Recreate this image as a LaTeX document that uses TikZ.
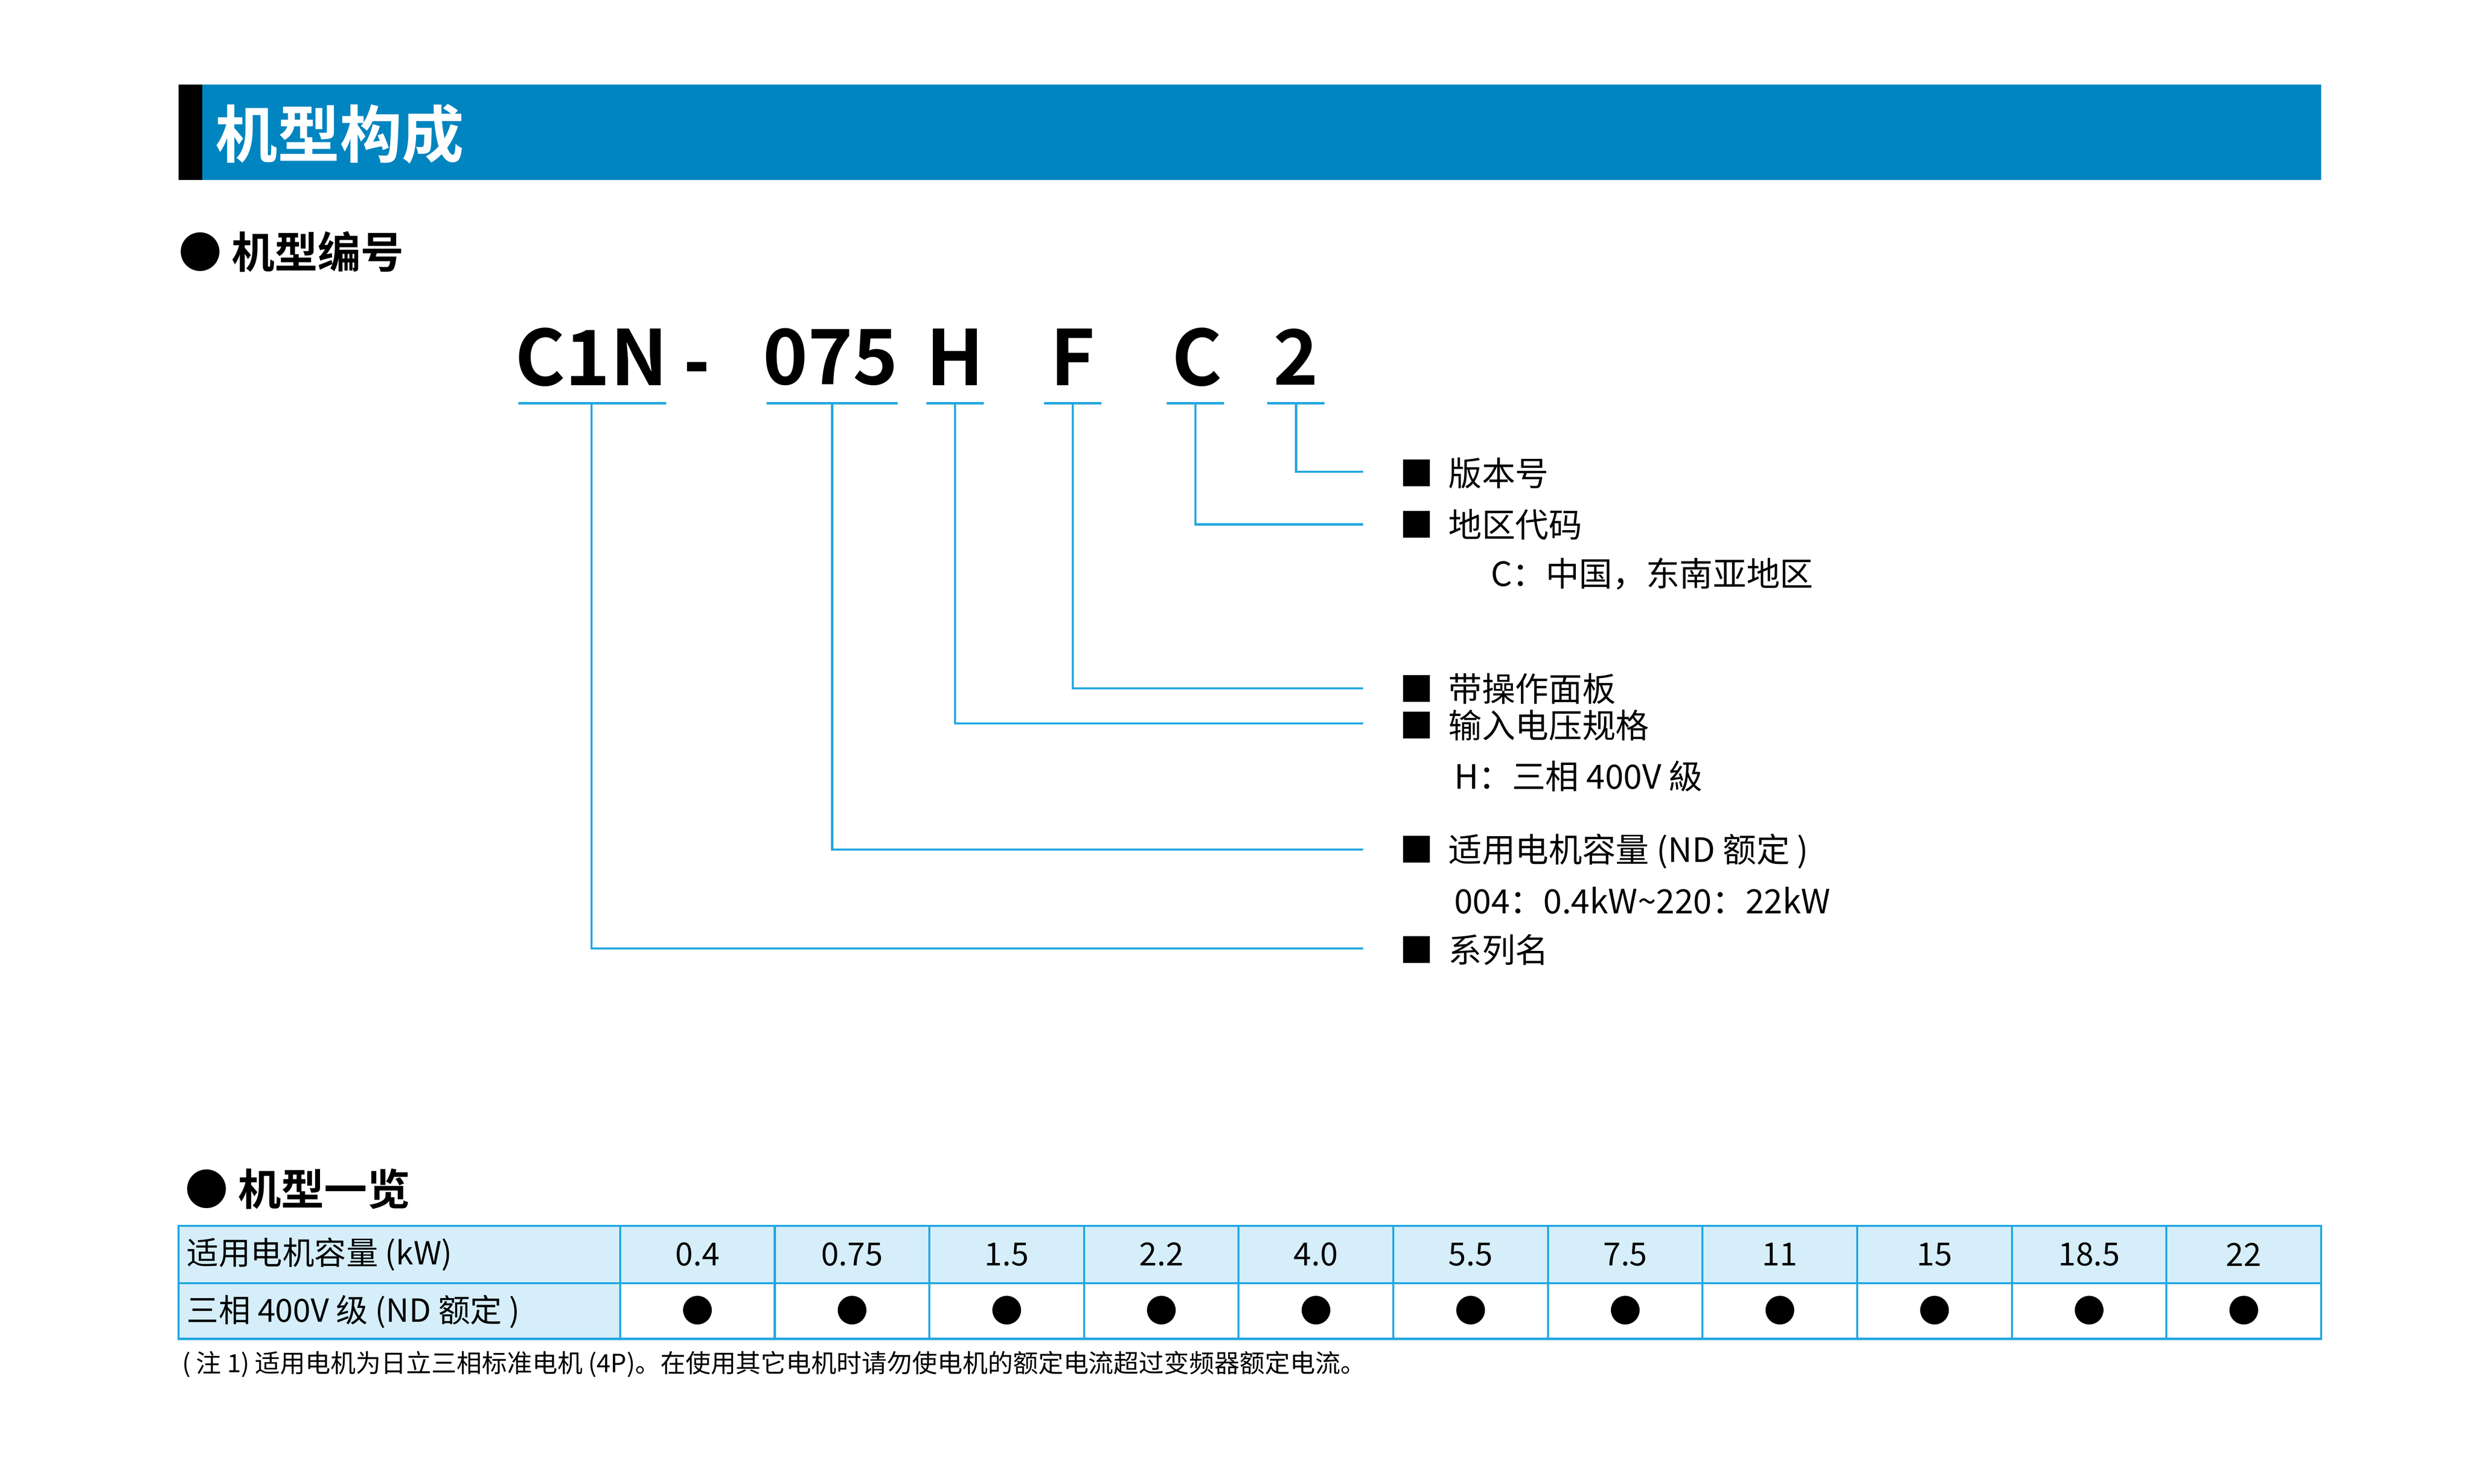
\documentclass[tikz,border=0pt]{standalone}
\usepackage{fontspec}
\setmainfont{Noto Sans CJK SC}
\newfontfamily\cjkb{Noto Sans CJK SC Bold}
\definecolor{barblue}{HTML}{0085C0}
\definecolor{lineblue}{HTML}{22A7E0}
\definecolor{cellblue}{HTML}{D5EEFA}
\begin{document}
\begin{tikzpicture}[x=1pt,y=-1pt,
  lbl/.style={anchor=west,inner sep=0pt,font=\fontsize{21}{21}\selectfont},
  code/.style={inner sep=0pt,font=\cjkb\fontsize{48}{48}\selectfont},
  lead/.style={draw=lineblue,line width=1.3pt},
  cell/.style={font=\fontsize{20}{20}\selectfont,inner sep=0pt}]
\useasboundingbox (0,0) rectangle (1551.3,931);
\fill[white] (0,0) rectangle (1551.3,931);
% header
\fill[barblue] (112,53) rectangle (1456,113);
\fill[black] (112,53) rectangle (127,113);
\node[anchor=west,inner sep=0pt,text=white,font=\cjkb\fontsize{39}{39}\selectfont] (title) at (135,84) {机型构成};
\node[anchor=west,inner sep=0pt,font=\cjkb\fontsize{27}{27}\selectfont] (s1) at (112,158) {● 机型编号};
% code letters
\node[code] (c1n) at (371,224) {C1N};
\fill (431,227) rectangle (443,233);
\node[code] (n075) at (521,224) {075};
\node[code] (h) at (599,224) {H};
\node[code] (f) at (673,224) {F};
\node[code] (c) at (751,224) {C};
\node[code] (two) at (813,224) {2};
% underlines
\foreach \a/\b in {325/418,481/563,581/617,655/691,732/768,795/831}
  \draw[lead] (\a,253) -- (\b,253);
% labels
\node[lbl] (l1) at (878,297) {■\ \ 版本号};
\node[lbl] (l2) at (878,329) {■\ \ 地区代码};
\node[lbl] (l2b) at (935,360) {C：中国，东南亚地区};
\node[lbl] (l3) at (878,432) {■\ \ 带操作面板};
\node[lbl] (l4) at (878,455) {■\ \ 输入电压规格};
\node[lbl] (l4b) at (912,487) {H：三相 400V 級};
\node[lbl] (l5) at (878,534) {■\ \ 适用电机容量 (ND 额定 )};
\node[lbl] (l5b) at (912,565) {004：0.4kW\char`~220：22kW};
\node[lbl] (l6) at (878,596) {■\ \ 系列名};
\coordinate (e1) at (855,296);
\coordinate (e2) at (855,329);
\coordinate (e3) at (855,432);
\coordinate (e4) at (855,454);
\coordinate (e5) at (855,533);
\coordinate (e6) at (855,595);
\draw[lead] (813,253) |- (e1);
\draw[lead] (750,253) |- (e2);
\draw[lead] (673,253) |- (e3);
\draw[lead] (599,253) |- (e4);
\draw[lead] (522,253) |- (e5);
\draw[lead] (371,253) |- (e6);
% table
\node[anchor=west,inner sep=0pt,font=\cjkb\fontsize{27}{27}\selectfont] (s2) at (116,746) {● 机型一览};
\fill[cellblue] (112,769) rectangle (1456,805);
\fill[cellblue] (112,805) rectangle (389,840);
\draw[lead] (112,769) rectangle (1456,840);
\draw[lead] (112,805) -- (1456,805);
\foreach \x in {389,486,583,680,777,874,971,1068,1165,1262,1359}
  \draw[lead] (\x,769) -- (\x,840);
\node[cell,anchor=west] (h1) at (117,787) {适用电机容量 (kW)};
\node[cell,anchor=west] (h2) at (117,823) {三相 400V 级 (ND 额定 )};
\foreach \v [count=\i from 0] in {0.4,0.75,1.5,2.2,4.0,5.5,7.5,11,15,18.5,22}{
  \node[cell] (v\i) at (437.5+97*\i,787) {\v};
  \fill (437.5+97*\i,822) circle (9);
}
\node[anchor=west,inner sep=0pt,font=\fontsize{15.8}{15.8}\selectfont] (note) at (114,856) {( 注 1) 适用电机为日立三相标准电机 (4P)。在使用其它电机时请勿使电机的额定电流超过变频器额定电流。};
\end{tikzpicture}
\end{document}
